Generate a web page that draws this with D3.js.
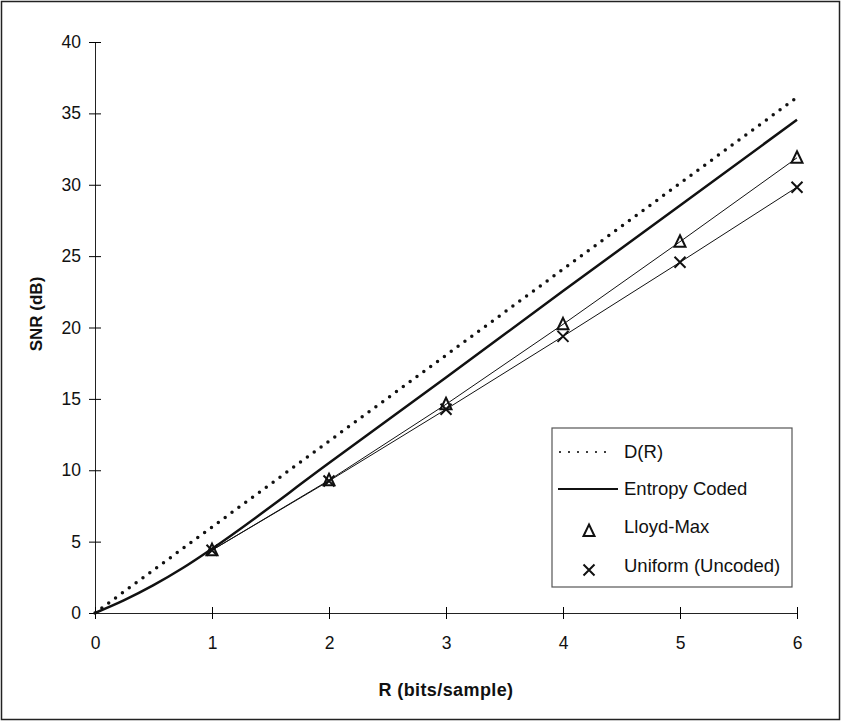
<!DOCTYPE html>
<html>
<head>
<meta charset="utf-8">
<script src="https://cdnjs.cloudflare.com/ajax/libs/d3/7.8.5/d3.min.js"></script>
<style>
  body { margin: 0; background: #fff; }
  svg { display: block; font-family: "Liberation Sans", Arial, sans-serif; }
</style>
</head>
<body>
<div id="chart"></div>
<script>
// data (SNR in dB)
var rate = [0, 1, 2, 3, 4, 5, 6];
var drValues = [0, 6.02, 12.04, 18.06, 24.08, 30.1, 36.12];
var entropyRate = [0, 0.25, 0.5, 0.75, 1, 2, 3, 4, 5, 6];
var entropyValues = [0, 0.9, 1.95, 3.15, 4.5, 10.5, 16.5, 22.55, 28.55, 34.55];
var lloydRate = [1, 2, 3, 4, 5, 6];
var lloydValues = [4.4, 9.3, 14.62, 20.22, 26.01, 31.89];
var uniformRate = [1, 2, 3, 4, 5, 6];
var uniformValues = [4.4, 9.25, 14.27, 19.38, 24.57, 29.83];
var yTicks = [0, 5, 10, 15, 20, 25, 30, 35, 40];
var legendLabels = ["D(R)", "Entropy Coded", "Lloyd-Max", "Uniform (Uncoded)"];

var W = 842, H = 722;
var svg = d3.select("#chart").append("svg")
  .attr("width", W)
  .attr("height", H);

// outer frame
svg.append("rect")
  .attr("x", 1.5).attr("y", 1.5)
  .attr("width", 838).attr("height", 718)
  .attr("fill", "none")
  .attr("stroke", "#222")
  .attr("stroke-width", 1.5);

var x = d3.scaleLinear().domain([0, 6]).range([95, 797]);
var y = d3.scaleLinear().domain([0, 40]).range([613, 42]);

// y axis
var yAxis = svg.append("g")
  .attr("transform", "translate(" + x(0) + ",0)")
  .call(d3.axisLeft(y).tickValues(yTicks).tickSize(6).tickSizeOuter(0).tickFormat(d3.format("d")));
yAxis.selectAll(".tick line").attr("x1", 6).attr("x2", -6);
yAxis.selectAll(".tick text").attr("x", -14).style("font-size", "17.5px").attr("fill", "#111");
yAxis.select(".domain").attr("stroke", "#222");

// x axis
var xAxis = svg.append("g")
  .attr("transform", "translate(0," + y(0) + ")")
  .call(d3.axisBottom(x).tickValues(rate).tickSize(6).tickSizeOuter(0).tickFormat(d3.format("d")));
xAxis.selectAll(".tick line").attr("y1", -6).attr("y2", 6);
xAxis.selectAll(".tick text").attr("y", 24).style("font-size", "17.5px").attr("fill", "#111");
xAxis.select(".domain").attr("stroke", "#222");

// axis titles
svg.append("text")
  .attr("x", x(3)).attr("y", 696)
  .attr("text-anchor", "middle")
  .style("font-size", "18px").style("font-weight", "bold")
  .style("letter-spacing", "0.4px")
  .attr("fill", "#111")
  .text("R (bits/sample)");

svg.append("text")
  .attr("transform", "translate(42,314) rotate(-90)")
  .attr("text-anchor", "middle")
  .style("font-size", "17px").style("font-weight", "bold")
  .attr("fill", "#111")
  .text("SNR (dB)");

var line = d3.line()
  .x(function(d) { return x(d[0]); })
  .y(function(d) { return y(d[1]); });

// D(R) dotted
svg.append("path")
  .datum(d3.zip(rate, drValues))
  .attr("d", line)
  .attr("fill", "none")
  .attr("stroke", "#111")
  .attr("stroke-width", 3.5)
  .attr("stroke-linecap", "round")
  .attr("stroke-dasharray", "0,8.5");

// entropy coded thick line
svg.append("path")
  .datum(d3.zip(entropyRate, entropyValues))
  .attr("d", line.curve(d3.curveMonotoneX))
  .attr("fill", "none")
  .attr("stroke", "#111")
  .attr("stroke-width", 2.5);
line.curve(d3.curveLinear);

// thin connecting lines
[[lloydRate, lloydValues], [uniformRate, uniformValues]].forEach(function(s) {
  svg.append("path")
    .datum(d3.zip(s[0], s[1]))
    .attr("d", line)
    .attr("fill", "none")
    .attr("stroke", "#111")
    .attr("stroke-width", 1);
});

function triangle(g, cx, cy) {
  g.append("path")
    .attr("d", "M" + cx + "," + (cy - 6.5) + "L" + (cx + 5.5) + "," + (cy + 5) + "L" + (cx - 5.5) + "," + (cy + 5) + "Z")
    .attr("fill", "none")
    .attr("stroke", "#111")
    .attr("stroke-width", 2);
}
function cross(g, cx, cy) {
  g.append("path")
    .attr("d", "M" + (cx - 5.5) + "," + (cy - 5.5) + "L" + (cx + 5.5) + "," + (cy + 5.5) +
               "M" + (cx + 5.5) + "," + (cy - 5.5) + "L" + (cx - 5.5) + "," + (cy + 5.5))
    .attr("fill", "none")
    .attr("stroke", "#111")
    .attr("stroke-width", 2);
}

var marks = svg.append("g");
lloydRate.forEach(function(r, i) { triangle(marks, x(r), y(lloydValues[i])); });
uniformRate.forEach(function(r, i) { cross(marks, x(r), y(uniformValues[i])); });

// legend
var lg = svg.append("g");
lg.append("rect")
  .attr("x", 552).attr("y", 428)
  .attr("width", 240).attr("height", 159)
  .attr("fill", "#fff")
  .attr("stroke", "#555")
  .attr("stroke-width", 1.2);

var rowY = [452, 489, 527, 566];
lg.append("line")
  .attr("x1", 560).attr("x2", 613).attr("y1", rowY[0]).attr("y2", rowY[0])
  .attr("stroke", "#111").attr("stroke-width", 2.2)
  .attr("stroke-linecap", "round").attr("stroke-dasharray", "0,9");
lg.append("line")
  .attr("x1", 558).attr("x2", 618).attr("y1", rowY[1]).attr("y2", rowY[1])
  .attr("stroke", "#111").attr("stroke-width", 2);
triangle(lg, 589, rowY[2] + 4);
cross(lg, 589, rowY[3] + 4);

lg.selectAll("text.leg")
  .data(legendLabels)
  .enter().append("text")
  .attr("class", "leg")
  .attr("x", 624)
  .attr("y", function(d, i) { return rowY[i] + 6; })
  .style("font-size", "18.5px")
  .attr("fill", "#111")
  .text(function(d) { return d; });
</script>
</body>
</html>
